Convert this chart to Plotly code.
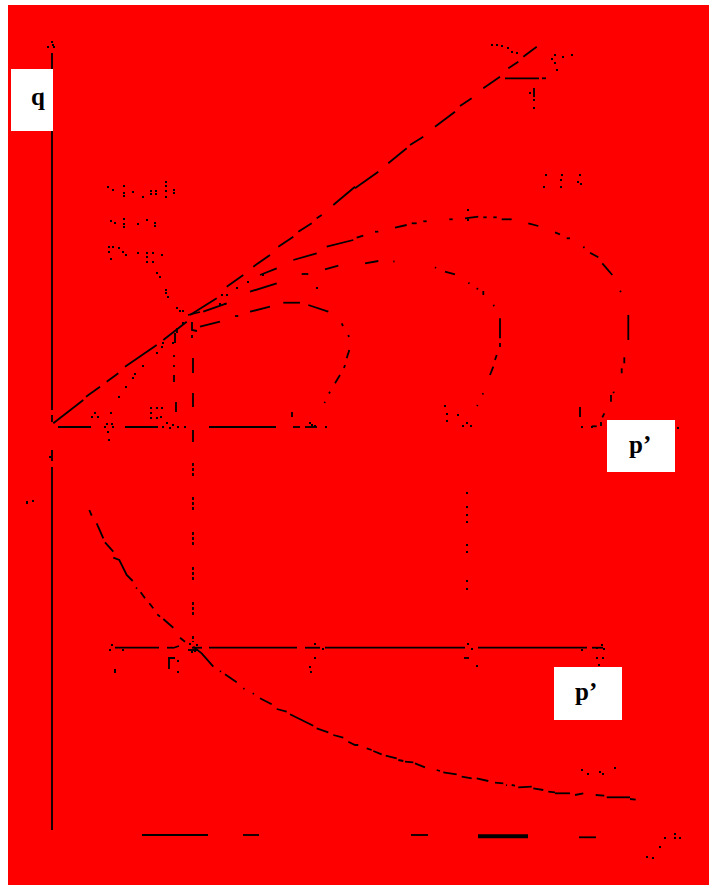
import plotly.graph_objects as go

# p' on x, q on y (upper diagram), v on y2 (lower diagram). None = gap in the scanned line
csl_p = [1.3, 31.3, None, 34, 48, None, 54.7, 66.3, None, 73, 104.7, None, 111.3, 134.7, None, 138, 164.7, None,
         174.7, 191.3, None, 201.3, 218, None, 226.3, 241.3, None, 246.3, 259.7, None, 264.7, 269.7, None, 281.3, 303,
         None, 303, 326.3, None, 336.3, 354.7, None, 358, 371.3, None, 383, 403, None, 408, 419.7, None, 431.3, 448,
         None, 456.3, 466.3, None, 471.3, 484.7]
csl_q = [3.7, 27, None, 30.3, 40.3, None, 45.3, 53.7, None, 60.3, 82, None, 87, 105.3, None, 112, 128.7, None,
         140.3, 152, None, 160.3, 172, None, 180.3, 190.3, None, 195.3, 203.7, None, 208.7, 212, None, 222, 240.3,
         None, 238.7, 255.3, None, 263.7, 278.7, None, 282, 290.3, None, 300.3, 315.3, None, 321, 328.7, None, 338.7, 350.3,
         None, 358.7, 365.3, None, 370.3, 380.3]

small_p = [148, 168, None, 183, 186.3, None, 198, 218, None, 231.3, 248, None, 256.3, 276.3, None, 289.7, 291, None,
           296.3, 297, None, 297.3, 294.7, None, 293, 292, None, 288, 283, None, 278, 277, None, 273, 272.5]
small_q = [100.3, 105.3, None, 111, 111, None, 115.3, 120.3, None, 124.3, 124.3, None, 122, 115.3, None, 103.7, 101, None,
           92, 90, None, 77, 68.7, None, 62, 59, None, 52, 43.7, None, 35.3, 33.5, None, 25.3, 24]

mid_p = [151.3, 174.7, None, 198, 224.7, None, 249.7, 256.3, None, 273, 286.3, None, 313, 326.3, None, 341.3, 342.5, None,
         383, 384, None, 393, 403, None, 416.3, 417.5, None, 424.7, 426, None, 431.3, 431.3, None, 441.3, 442.3, None,
         448, 448, None, 448, 448, None, 444.7, 443, None, 441.3, 438, None, 431.3, 430.5, None, 425.7, 425]
mid_q = [115.3, 123.7, None, 135.3, 143.7, None, 153, 153, None, 157.7, 161.3, None, 163.7, 166, None, 165.7, 165.5, None,
         159.7, 159, None, 155.3, 152.7, None, 144.3, 143.5, None, 138.7, 137.7, None, 136, 132, None, 122, 121, None,
         108.7, 88.7, None, 84, 80, None, 72, 67, None, 60.3, 52, None, 33.7, 32.5, None, 22, 21]

big_p = [208, 224.7, None, 241.3, 264.7, None, 274.7, 301.3, None, 304.7, 311.3, None, 323, 326.3, None, 343, 354.7, None,
         359.7, 364.7, None, 371.3, 374.7, None, 397.3, 400.7, None, 413, 426.3, None, 431.3, 434.7, None, 441.3, 444.7, None,
         449.7, 459.7, None, 476.3, 486.3, None, 503, 508, None, 514.7, 518, None, 531.3, 532.5, None, 538, 546.3, None,
         550.3, 560.3, None, 568, 569, None, 576.3, 576.3, None, 572.3, 572.3, None, 569.7, 569.7, None, 561.3, 562, None,
         559, 559, None, 552.3, 550.3, None, 549, 549, None, 539.7, 544.7]
big_q = [152, 158.7, None, 167, 173.7, None, 180.3, 187, None, 189.3, 191.3, None, 195.3, 195.3, None, 199.3, 202, None,
         203.7, 203.7, None, 205.7, 205.7, None, 207.7, 207.7, None, 208.7, 210.3, None, 209.7, 209.7, None, 209.7, 209.7, None,
         207.7, 207.7, None, 203.7, 201, None, 194.7, 192.7, None, 188.7, 188.7, None, 180.3, 179.3, None, 174.3, 169.7, None,
         163.7, 152, None, 136.3, 135, None, 112, 87, None, 69.7, 63.7, None, 58.7, 53.7, None, 35.3, 34, None,
         32, 25.3, None, 13.7, 9.7, None, 5, 1, None, 0.7, 0.7]

# compression line in the lower diagram
ncl_p = [37.3, 39.7, None, 44.7, 51.3, None, 53, 61.3, None, 61.3, 67.3, 74.7, 80.7, None, 84, 85, None, 88.7, 93, None,
         97.3, 101.3, None, 105.3, 108, None, 111.3, 121.3, None, 128, 133, None, 141.3, 149.7, 161.3, None, 168, 169, None,
         173, 184.7, None, 191.3, 192.5, None, 200.7, 202, None, 208, 219.7, None, 224.7, 234.7, None, 238, 261.3, None,
         264.7, 276.3, None, 281.3, 291.3, None, 296.3, 303, 306.3, None, 314.7, 319.7, None, 321.3, 329.7, None, 333.7, 344.7, None,
         346.3, 351.3, None, 353, 361.3, None, 363, 373, None, 384.7, 388, None, 391.3, 404.7, None, 409.7, 419.7, None,
         424.7, 436.3, None, 443, 451.3, None, 454, 455, None, 459.7, 463, None, 466.3, 479.7, None, 481.3, 491.3, None,
         496.3, 503, None, 503, 518, None, 523, 531.3, None, 543.7, 552.3, None, 554.7, 578, None, 578, 583.7]
ncl_v = [323, 317.3, None, 309.7, 294.7, None, 290.7, 281.3, None, 275.3, 273, 258, 252, None, 245.3, 244.3, None, 240.7, 234.7, None,
         229.7, 224.7, None, 218.7, 216.3, None, 214, 205.3, None, 195.3, 191.3, None, 186.3, 179.7, 166.3, None, 162, 161.2, None,
         158.7, 150.7, None, 144.7, 144, None, 139.7, 139, None, 134.7, 128.7, None, 124, 121.3, None, 118.7, 107.3, None,
         104.7, 100.7, None, 98, 95.3, None, 91.3, 88, 88, None, 84.7, 83, None, 82, 78.7, None, 77.3, 74.7, None,
         73, 72, None, 71.3, 70.7, None, 69.7, 65.7, None, 63, 62, None, 60.7, 58.7, None, 56.3, 54.7, None,
         54.7, 52, None, 50.3, 49.7, None, 48, 47.7, None, 48, 47.3, None, 45.7, 46.3, None, 44.7, 43, None,
         41.3, 40.7, None, 39.7, 39.7, None, 38, 39.7, None, 38, 37.3, None, 35.7, 35.7, None, 34, 33.3]

# axes as they survive in the scan
axis_top_p = [0, 0, None, 0, 0, None, 6, 39, None, 73, 106, None, 157, 224, None, 241, 248, None, 253, 265]
axis_top_q = [374, 17, None, 12, 5, None, 0, 0, None, 0, 0, None, 0, 0, None, 0, 0, None, 0, 0]
axis_low_p = [0, 0, None, 0, 0, None, 63, 107, None, 115, 121, None, 140, 150, None, 157, 245, None, 253, 268, None,
              273, 413, None, 426, 535, None, 540, 551]
axis_low_v = [383, 372, None, 366, 3, None, 185.3, 185.3, None, 185.3, 185.3, None, 185.3, 185.3, None, 185.3, 185.3, None, 185.3, 185.3, None,
              185.3, 185.3, None, 185.3, 185.3, None, 185.3, 185.3]
bottom_p = [90, 156, None, 191, 207, None, 359, 376, None, 527, 544]
bottom_v = [-2, -2, None, -2, -2, None, -2, -2, None, -4.3, -4.3]
thick_p = [426, 476]
thick_v = [-3.3, -3.3]
cap_p = [453, 487, None, 490, 494]
cap_q = [348.7, 348.7, None, 348.7, 348.7]

# projection lines
drop_top_p = [123, 123, None, 122, 122, None, 122, 122, None, 122, 122, None, 124, 124, None,
              141, 141, None, 141, 141, None, 141, 141, None, 140, 140]
drop_top_q = [94, 84, None, 72, 70, None, 62, 60, None, 52, 45, None, 25, 15, None,
              69, 54, None, 34, 20, None, -3, -15, None, 92, 89]
drop_low_p = [141, 141, None, 141, 141, None, 141, 141, None, 141, 141, None, 141, 141, None, 141, 141]
drop_low_v = [370, 356, None, 336, 323, None, 301, 287, None, 266, 251, None, 231, 218, None, 197, 191]

# short strokes left from the scanned labels and arrow heads
bits_top_p = [136, 148, None, 140, 140, 145, None, 125, 125, None, 482, 482, None, 528, 528, None, 240, 240]
bits_top_q = [112, 115, None, 105, 97, 96, None, 99, 94, None, 339, 330, None, 20, 10, None, 15, 10]
bits_low_p = [117, 117, 123, None, 412, 417, None, 127, 121, None, 136, 146]
bits_low_v = [164, 175, 175, None, 175, 175, None, 187, 185, None, 183, 183]

specks_top_p = [56, 61, 72, 72, 72, 81, 91, 99, 99, 104, 104, 114, 114, 114, 114, 122, 122,
                59, 63, 72, 72, 72, 86, 95, 103, 103,
                57, 61, 67, 71, 74, 57, 59, 86, 95, 95, 95, 101, 101, 110,
                105, 108, 114, 114, 116, 125, 128, 131, 131,
                67, 74, 81, 83, 91, 105, 110, 111, 121,
                170, 175, 168, 173, 185, 196, 265, 211,
                43, 40, 46, 59, 55, 60, 53, 61, 56, 57,
                99, 105, 110, 99, 99, 105, 109, 115, 111, 118, 121, 126, 133,
                258, 263, 260, 274, 0, -4, 1, 2,
                440, 445, 450, 456, 460, 465, 503, 500, 511, 520, 503, 505, 478, 482, 482,
                494, 492, 510, 509, 509, 528, 526, 529, 416, 416,
                393, 395, 395, 406, 415, 411, 419, 530, 540, 626]
specks_top_q = [240, 237, 241, 234, 231, 235, 230, 236, 233, 236, 233, 245, 241, 236, 230, 237, 234,
                206, 204, 208, 203, 200, 203, 207, 204, 201,
                180, 180, 179, 175, 172, 175, 168, 174, 174, 170, 165, 174, 165, 172,
                154, 150, 137, 134, 130, 119, 116, 116, 104,
                30, 40, 49, 53, 61, 74, 80, 84, 84,
                132, 132, 123, 123, 139, 145, 139, 152,
                14, 10, 10, 14, 3, 3, 0, 0, -5, -13,
                19, 19, 19, 14, 9, 9, 10, 4, 0, -1, 2, 0, 0,
                4, 1, 2, 0, 385, 380, 382, 380,
                382, 382, 381, 379, 375, 374, 372, 368, 370, 372, 364, 357, 334, 327, 319,
                252, 240, 252, 247, 240, 252, 245, 243, 217, 207,
                21, 13, 6, 12, 4, 1, 1, 0, 0, -1]
specks_low_p = [-2, -25, -25, -19, 60, 58, 71, 63, 63, 121, 126, 126, 138, 145, 140, 143, 263, 263, 258, 259, 271,
                416, 420, 425, 530, 545, 550, 552, 545, 551, 547,
                530, 536, 548, 551, 563, 613, 608, 623, 623, 628, 595, 601,
                415, 415, 415, 415, 415, 415, 415, 415]
specks_low_v = [376, 331, 330, 332, 188, 183, 183, 163, 161, 175, 172, 161, 189, 188, 181, 182, 189, 175, 166, 161, 184,
                189, 184, 167, 183, 185, 188, 184, 175, 175, 168,
                63, 59, 61, 59, 65, -5, -14, -1, -5, -5, -24, -25,
                340, 326, 318, 311, 288, 281, 252, 244]

INK = "black"


def stroke(x, y, axis, width=1.8, dash=None):
    return go.Scatter(x=x, y=y, yaxis=axis, mode="lines", connectgaps=False, hoverinfo="skip",
                      line=dict(color=INK, width=width, dash=dash))


def specks(x, y, axis):
    return go.Scatter(x=x, y=y, yaxis=axis, mode="markers", hoverinfo="skip",
                      marker=dict(color=INK, size=2, symbol="square", line=dict(width=0)))


fig = go.Figure()
for xs, ys in [(csl_p, csl_q), (small_p, small_q), (mid_p, mid_q), (big_p, big_q),
               (axis_top_p, axis_top_q), (cap_p, cap_q), (drop_top_p, drop_top_q), (bits_top_p, bits_top_q)]:
    fig.add_trace(stroke(xs, ys, "y"))
for xs, ys in [(ncl_p, ncl_v), (axis_low_p, axis_low_v), (bottom_p, bottom_v), (bits_low_p, bits_low_v)]:
    fig.add_trace(stroke(xs, ys, "y2"))
fig.add_trace(stroke(drop_low_p, drop_low_v, "y2", dash="3px,2px"))
fig.add_trace(stroke(thick_p, thick_v, "y2", width=4))
fig.add_trace(specks(specks_top_p, specks_top_q, "y"))
fig.add_trace(specks(specks_low_p, specks_low_v, "y2"))

# white label patches pasted over the scan
fig.add_shape(type="rect", xref="x", yref="y", x0=-41, x1=1, y0=296, y1=358, fillcolor="white", line_width=0, layer="above")
fig.add_shape(type="rect", xref="x", yref="y", x0=555, x1=623, y0=-45, y1=7, fillcolor="white", line_width=0, layer="above")
fig.add_shape(type="rect", xref="x", yref="y2", x0=502, x1=570, y0=113, y1=166, fillcolor="white", line_width=0, layer="above")

label_font = dict(family="Liberation Serif", size=25, color="black")
fig.add_annotation(x=-14, y=331, xref="x", yref="y", text="<b>q</b>", showarrow=False, font=label_font)
fig.add_annotation(x=588, y=-17, xref="x", yref="y", text="<b>p’</b>", showarrow=False, font=label_font)
fig.add_annotation(x=534, y=142, xref="x", yref="y2", text="<b>p’</b>", showarrow=False, font=label_font)

fig.update_layout(
    width=709,
    height=886,
    margin=dict(l=8, r=0, t=5, b=1),
    paper_bgcolor="white",
    plot_bgcolor="#ff0000",
    showlegend=False,
    xaxis=dict(range=[-44, 657], visible=False, fixedrange=True),
    yaxis=dict(range=[-458, 422], visible=False, fixedrange=True),
    yaxis2=dict(range=[-52, 828], visible=False, fixedrange=True, overlaying="y"),
)
fig.write_html("out.html", config={"displayModeBar": False}, post_script="document.body.style.margin='0';")
